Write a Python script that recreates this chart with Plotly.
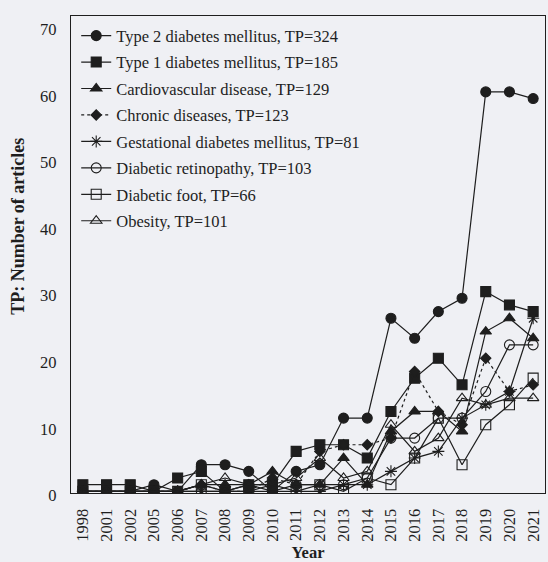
import plotly.graph_objects as go

years = ["1998", "2001", "2002", "2005", "2006", "2007", "2008", "2009", "2010", "2011",
         "2012", "2013", "2014", "2015", "2016", "2017", "2018", "2019", "2020", "2021"]

t2d = [0, 0, 0, 1, 0, 4, 4, 3, 0, 3, 4, 11, 11, 26, 23, 27, 29, 60, 60, 59]
t1d = [1, 1, 1, 0, 2, 3, 0, 1, 1, 6, 7, 7, 5, 12, 17, 20, 16, 30, 28, 27]
cardio = [0, 0, 0, 0, 0, 1, 1, 1, 3, 1, 1, 5, 1, 9, 12, 12, 9, 24, 26, 23]
chronic = [0, 0, 0, 0, 0, 1, 0, 0, 2, 1, 6, 7, 7, 8, 18, 12, 10, 20, 15, 16]
gestational = [0, 0, 0, 0, 0, 0, 0, 0, 0, 0, 0, 1, 1, 3, 5, 6, 11, 13, 15, 26]
retinopathy = [0, 0, 0, 0, 0, 0, 0, 1, 0, 1, 1, 1, 2, 8, 8, 11, 11, 15, 22, 22]
foot = [0, 0, 0, 0, 0, 1, 0, 0, 1, 0, 1, 0, 2, 1, 5, 11, 4, 10, 13, 17]
obesity = [0, 0, 0, 0, 0, 1, 2, 1, 1, 2, 5, 2, 3, 10, 6, 8, 14, 13, 14, 14]

series_names = [
    "Type 2 diabetes mellitus, TP=324",
    "Type 1 diabetes mellitus, TP=185",
    "Cardiovascular disease, TP=129",
    "Chronic diseases, TP=123",
    "Gestational diabetes mellitus, TP=81",
    "Diabetic retinopathy, TP=103",
    "Diabetic foot, TP=66",
    "Obesity, TP=101",
]
series_values = [t2d, t1d, cardio, chronic, gestational, retinopathy, foot, obesity]
symbols = ["circle", "square", "triangle-up", "diamond", "asterisk-open",
           "circle-open", "square-open", "triangle-up-open"]
sizes = [10, 10, 10, 8, 10, 10, 10, 10]
dashes = ["solid", "solid", "solid", "dot", "solid", "solid", "solid", "solid"]

FONT = "Liberation Serif"
INK = "#1e1e1e"
BG = "#eff0f4"

fig = go.Figure()
for i, (name, vals) in enumerate(zip(series_names, series_values)):
    fig.add_trace(go.Scatter(
        x=years, y=vals, name=name, mode="lines+markers",
        legendgroup=f"g{i}",
        line=dict(color=INK, width=1.2, dash=dashes[i]),
        marker=dict(symbol=symbols[i], size=sizes[i], color=INK,
                    line=dict(color=INK, width=1.1)),
    ))

fig.update_layout(
    width=548, height=562,
    margin=dict(l=71, r=3, t=16, b=69),
    paper_bgcolor=BG, plot_bgcolor=BG,
    font=dict(family=FONT, size=16.5, color=INK),
    showlegend=True,
    legend=dict(x=0.011, y=0.995, xanchor="left", yanchor="top",
                bgcolor="rgba(0,0,0,0)", borderwidth=0,
                font=dict(family=FONT, size=16.5, color=INK),
                tracegroupgap=2, itemwidth=30),
    xaxis=dict(type="category", range=[-0.5, 19.5], showgrid=False,
               showline=True, linecolor=INK, linewidth=1.2, mirror=True,
               ticks="", tickangle=-90, ticklabelstandoff=8,
               tickfont=dict(family=FONT, size=16.5, color=INK),
               title=dict(text="<b>Year</b>", standoff=5,
                          font=dict(family=FONT, size=16.5, color=INK)),
               zeroline=False),
    yaxis=dict(range=[-0.25, 71.4], showgrid=False, zeroline=False,
               showline=True, linecolor=INK, linewidth=1.2, mirror=True,
               tickvals=[0, 10, 20, 30, 40, 50, 60, 70], ticks="",
               ticklabelstandoff=10, ticklabelshift=4,
               tickfont=dict(family=FONT, size=16.5, color=INK)),
    annotations=[dict(text="<b>TP: Number of articles</b>", textangle=-90,
                      xref="paper", yref="paper", x=-0.112, y=0.56,
                      xanchor="center", yanchor="middle", showarrow=False,
                      font=dict(family=FONT, size=18, color=INK))],
)

fig.write_html(
    "out.html",
    config={"displayModeBar": False},
    post_script="document.body.style.margin='0';document.body.style.background='" + BG + "';",
)
